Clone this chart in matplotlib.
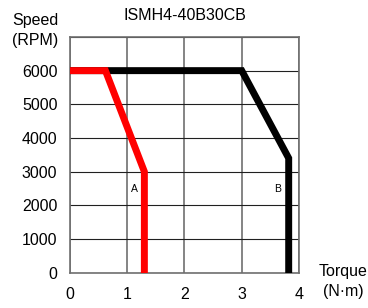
import matplotlib
matplotlib.use('Agg')
import matplotlib.pyplot as plt

plt.rcParams['font.family'] = ['Liberation Sans', 'DejaVu Sans']

# Curve A (red) and curve B (black): torque (N·m) vs speed (RPM)
torque_a = [0, 0.62, 1.30, 1.30]
speed_a = [6000, 6000, 3000, 0]
torque_b = [0, 3.0, 3.82, 3.82]
speed_b = [6000, 6000, 3400, 0]
x_ticks = [0, 1, 2, 3, 4]
y_ticks = [0, 1000, 2000, 3000, 4000, 5000, 6000, 7000]

fig = plt.figure(figsize=(3.68, 3.08), dpi=100)
ax = fig.add_axes([0.190, 0.1146, 0.6225, 0.7654])

for x in x_ticks:
    ax.axvline(x, color='#707070', lw=1.2, zorder=1)
for y in y_ticks:
    ax.axhline(y, color='#202020', lw=0.8, zorder=1)

ax.plot(torque_b, speed_b, color='black', lw=5, solid_joinstyle='miter', zorder=3)
ax.plot(torque_a, speed_a, color='#ff0000', lw=5, solid_joinstyle='miter', zorder=4)

ax.text(1.12, 2480, 'A', fontsize=7.5, ha='center', va='center')
ax.text(3.62, 2480, 'B', fontsize=7.5, ha='center', va='center')

ax.set_xlim(0, 4)
ax.set_ylim(0, 7000)
ax.set_xticks(x_ticks)
ax.set_yticks(y_ticks[:-1])
ax.tick_params(axis='y', length=0, labelsize=11.5, pad=9)
ax.tick_params(axis='x', length=0, labelsize=11.5, pad=10)
for s in ax.spines.values():
    s.set_color('#707070')
    s.set_linewidth(1.2)

fig.text(0.5014, 0.951, 'ISMH4-40B30CB', ha='center', va='center', fontsize=11.5)
fig.text(0.095, 0.935, 'Speed', ha='center', va='center', fontsize=11.5)
fig.text(0.095, 0.867, '(RPM)', ha='center', va='center', fontsize=11.5)
fig.text(0.932, 0.118, 'Torque', ha='center', va='center', fontsize=11.5)
fig.text(0.932, 0.053, '(N·m)', ha='center', va='center', fontsize=11.5)

fig.savefig('out.png', dpi=100)
